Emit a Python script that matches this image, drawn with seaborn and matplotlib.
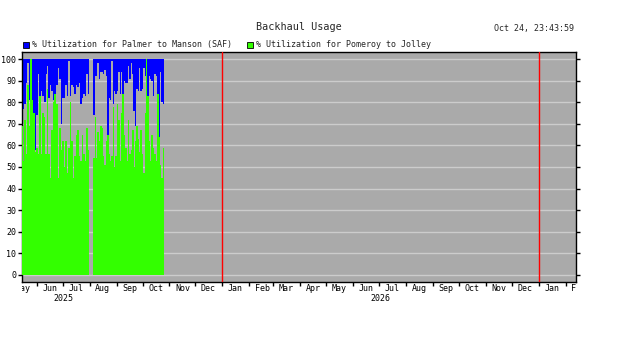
import numpy as np
import pandas as pd
import matplotlib
matplotlib.use("Agg")
import matplotlib.pyplot as plt
import matplotlib.dates as mdates
from matplotlib.patches import Rectangle
from matplotlib.transforms import Bbox, TransformedBbox, blended_transform_factory
import seaborn as sns

# ---------------- data ----------------
title = "Backhaul Usage"
timestamp = "Oct 24, 23:43:59"
series_names = ["% Utilization for Palmer to Manson (SAF)",
                "% Utilization for Pomeroy to Jolley"]

seg1_start, seg1_end = "2025-05-15", "2025-07-30 18:00"
seg2_start, seg2_end = "2025-08-06", "2025-10-25"

# Pomeroy to Jolley (green, drawn from 0)
green_seg1 = [69, 53, 72, 56, 88, 69, 100, 81, 75, 57, 59, 56, 83, 56, 75,
              73, 56, 86, 56, 45, 67, 80, 84, 79, 45, 68, 58, 62, 50, 62,
              47, 59, 80, 62, 45, 55, 65, 67, 55, 53, 65, 56, 53, 68, 58]
green_seg2 = [54, 73, 54, 66, 62, 69, 68, 55, 51, 62, 65, 56, 53, 55, 78,
              50, 55, 79, 72, 53, 75, 84, 65, 59, 53, 72, 56, 58, 67, 50,
              62, 69, 63, 57, 67, 56, 47, 75, 100, 83, 62, 53, 65, 59, 56,
              53, 84, 64, 51, 45, 59]
# Palmer to Manson (blue, lower edge of the band hanging from the top value)
blue_low_seg1 = [79, 77, 79, 89, 98, 81, 99, 81, 75, 58, 74, 93, 62, 85, 83,
                 80, 93, 97, 82, 88, 85, 81, 80, 88, 96, 91, 70, 82, 82, 88,
                 83, 99, 83, 88, 87, 84, 88, 87, 89, 79, 82, 84, 83, 93, 84]
blue_low_seg2 = [74, 92, 92, 98, 91, 94, 94, 93, 95, 92, 65, 82, 81, 99, 79,
                 85, 84, 85, 94, 84, 94, 84, 90, 89, 89, 97, 91, 98, 93, 76,
                 69, 86, 85, 96, 85, 86, 96, 92, 89, 83, 92, 91, 90, 83, 93,
                 92, 83, 61, 94, 80, 79]
blue_top = 100

y_ticks = [0, 10, 20, 30, 40, 50, 60, 70, 80, 90, 100]
month_names = ["Jan", "Feb", "Mar", "Apr", "May", "Jun",
               "Jul", "Aug", "Sep", "Oct", "Nov", "Dec"]
year_labels = ["2025", "2026"]
x_start, x_end = "2025-05-15", "2027-02-13"
year_marks = ["2026-01-01", "2027-01-01"]

# ---------------- style ----------------
sns.set_theme(style="white")
plt.rcParams["font.family"] = ["DejaVu Sans Mono"]

W, H = 626, 343
fig = plt.figure(figsize=(W / 100, H / 100), dpi=100)
ax = fig.add_axes([22 / W, 61 / H, 554 / W, 230 / H])
ax.set_facecolor("#aaaaaa")

BLUE = "#0000ff"
GREEN = "#33ff00"

d1 = mdates.date2num(pd.date_range(seg1_start, seg1_end, periods=len(green_seg1)))
d2 = mdates.date2num(pd.date_range(seg2_start, seg2_end, periods=len(green_seg2)))
w1 = np.diff(d1).mean()
w2 = np.diff(d2).mean()

# blue bands
for xs, lows, w in [(d1, blue_low_seg1, w1), (d2, blue_low_seg2, w2)]:
    lows = np.asarray(lows, float)
    ax.bar(xs, blue_top - lows, bottom=lows, width=w * 1.08,
           color=BLUE, linewidth=0, zorder=2)

# green bars via seaborn
df = pd.DataFrame({"t": np.concatenate([d1, d2]),
                   "v": green_seg1 + green_seg2})
sns.barplot(data=df, x="t", y="v", native_scale=True, color=GREEN,
            saturation=1, width=1.12, errorbar=None, linewidth=0,
            ax=ax, zorder=3)

ax.set_xlim(mdates.date2num(pd.Timestamp(x_start)),
            mdates.date2num(pd.Timestamp(x_end)))
ax.set_ylim(-3.3, 103.3)
ax.set_xlabel("")
ax.set_ylabel("")
ax.set_title("")

# year boundaries
for ym in year_marks:
    ax.axvline(mdates.date2num(pd.Timestamp(ym)), color="#ff0000", lw=1, zorder=4)

# y axis
ax.set_yticks(y_ticks)
ax.set_yticklabels([str(v) for v in y_ticks], fontsize=6)
ax.grid(axis="y", color="#cccccc", lw=1)
ax.grid(axis="x", visible=False)
ax.set_axisbelow(True)
ax.tick_params(axis="y", direction="out", length=3, width=1, color="black",
               left=True, right=True, pad=1, labelcolor="black")

# x ticks at month boundaries
month_starts = pd.date_range("2025-06-01", "2027-02-01", freq="MS")
ax.set_xticks(mdates.date2num(month_starts))
ax.set_xticklabels([])
ax.tick_params(axis="x", direction="out", length=3, width=1, color="black",
               bottom=True)
ax.xaxis.get_offset_text().set_visible(False)
ax.yaxis.get_offset_text().set_visible(False)

for sp in ax.spines.values():
    sp.set_color("black")
    sp.set_linewidth(1)

# month labels (clipped to plot width)
clip = TransformedBbox(Bbox([[0, -0.3], [1, 0]]), ax.transAxes)
trans = blended_transform_factory(ax.transData, ax.transAxes)
x_lo = mdates.date2num(pd.Timestamp(x_start)) - 20
x_hi = mdates.date2num(pd.Timestamp(x_end)) + 20
mids = pd.date_range("2025-05-01", "2027-02-01", freq="MS") + pd.Timedelta(days=15)
for m in mids:
    xm = mdates.date2num(m)
    if not (x_lo < xm < x_hi):
        continue
    t = ax.text(xm, -0.027, month_names[m.month - 1],
                transform=trans, ha="center", va="center", fontsize=6,
                color="black", clip_on=True)
    t.set_clip_box(clip)
for yl in year_labels:
    ax.text(mdates.date2num(pd.Timestamp(f"{yl}-07-02")), -0.07, yl,
            transform=trans, ha="center", va="center", fontsize=6, color="black")

# titles
fig.text(299 / W, 1 - 27 / H, title, ha="center", va="center", fontsize=7.3)
fig.text(574 / W, 1 - 29 / H, timestamp, ha="right", va="center", fontsize=6)

# legend
for x0, col, name in [(23, BLUE, series_names[0]), (247, GREEN, series_names[1])]:
    fig.add_artist(Rectangle((x0 / W, 1 - 48 / H), 6 / W, 6 / H,
                             facecolor=col, edgecolor="black", lw=0.6,
                             transform=fig.transFigure))
    fig.text((x0 + 9) / W, 1 - 44.5 / H, name, ha="left", va="center", fontsize=6)

fig.savefig("out.png", dpi=100, facecolor="white")
